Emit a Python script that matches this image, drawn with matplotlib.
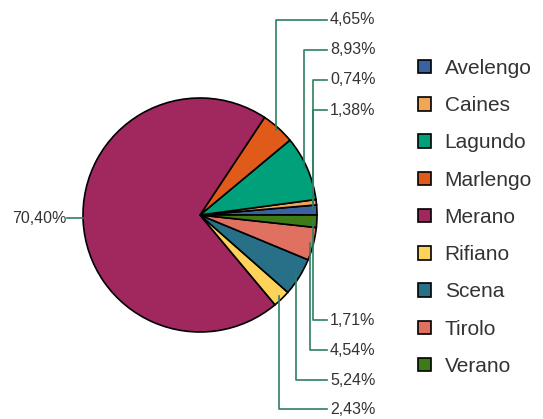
"""
Share of population by municipality - pie chart with leader labels
"""

import numpy as np
import matplotlib.pyplot as plt

# Data
comuni = ["Avelengo", "Caines", "Lagundo", "Marlengo", "Merano",
          "Rifiano", "Scena", "Tirolo", "Verano"]
quote = [1.38, 0.74, 8.93, 4.65, 70.40, 2.43, 5.24, 4.54, 1.71]
etichette = ["1,38%", "0,74%", "8,93%", "4,65%", "70,40%",
             "2,43%", "5,24%", "4,54%", "1,71%"]
colori = ["#3a62a0", "#f0a656", "#00a07a", "#e05a1a", "#a0285e",
          "#ffd35a", "#287088", "#e07060", "#3e7a16"]

# Layout (pixels)
W, H = 543, 419
cx, cy, r = 200, 215, 117
label_y = [110, 80, 50, 20, 218, 409, 380, 350, 320]
label_x = 330
line_col = "#2e8060"

plt.rcParams["font.family"] = ["Liberation Sans", "DejaVu Sans"]

fig = plt.figure(figsize=(W / 100, H / 100), dpi=100)
ax = fig.add_axes([0, 0, 1, 1])

# Pie (y axis inverted, so counterclock=False draws visually counterclockwise)
wedges, _ = ax.pie(
    quote,
    colors=colori,
    center=(cx, cy),
    radius=r,
    startangle=0,
    counterclock=False,
    wedgeprops=dict(edgecolor="black", linewidth=1.2),
)
ax.set_xlim(0, W)
ax.set_ylim(H, 0)
ax.set_aspect("equal")
ax.axis("off")

# Leader lines and labels
tot = sum(quote)
cum = np.cumsum([0] + quote[:-1])
for i, (v, lab) in enumerate(zip(quote, etichette)):
    ang = np.deg2rad(360 * (cum[i] + v / 2) / tot)
    px = cx + 0.97 * r * np.cos(ang)
    py = cy - 0.97 * r * np.sin(ang)
    if np.cos(ang) < -0.5:
        # Left side label
        px = cx + r * np.cos(ang)
        ax.plot([px, px - 16], [label_y[i], label_y[i]], color=line_col, lw=1.2)
        ax.text(px - 17, label_y[i], lab, ha="right", va="center",
                fontsize=11.5, color="#333333")
    else:
        ax.plot([px, px, label_x - 3], [py, label_y[i], label_y[i]],
                color=line_col, lw=1.2)
        ax.text(label_x, label_y[i], lab, ha="left", va="center",
                fontsize=11.5, color="#333333")

# Legend
ax.legend(
    wedges, comuni,
    loc="upper left",
    bbox_to_anchor=(418 / W, 1 - 59 / H),
    bbox_transform=fig.transFigure,
    frameon=False,
    fontsize=15,
    handlelength=0.62,
    handleheight=0.62,
    handletextpad=0.66,
    labelspacing=0.875,
    borderpad=0,
    borderaxespad=0,
    labelcolor="#333333",
)

plt.savefig("out.png", dpi=100)
